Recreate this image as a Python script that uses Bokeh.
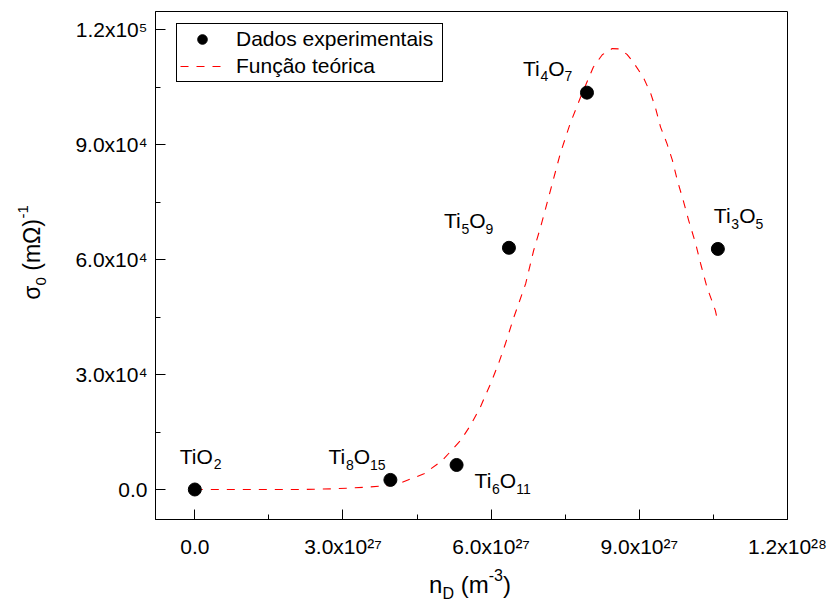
import math
from bokeh.plotting import figure
from bokeh.models import (Range1d, FixedTicker, CustomJSTickFormatter, Label,
                          Legend, LegendItem, ColumnDataSource, LinearAxis,
                          BoxAnnotation)
from bokeh.core.properties import value
from bokeh.embed import file_html
from bokeh.resources import INLINE

# ---------------- data ----------------
compounds = ["TiO2", "Ti8O15", "Ti6O11", "Ti5O9", "Ti4O7", "Ti3O5"]
n_d = [0.0, 3.96e27, 5.30e27, 6.36e27, 7.94e27, 10.59e27]
sigma0 = [0.0, 2.5e3, 6.4e3, 6.31e4, 1.036e5, 6.28e4]

curve_n = [0.0, 1.0e27, 2.14e27, 2.81e27, 3.49e27, 3.92e27, 4.20e27, 4.64e27,
           5.01e27, 5.38e27, 5.58e27, 5.78e27, 5.99e27, 6.15e27, 6.29e27,
           6.46e27, 6.70e27, 6.86e27, 7.00e27, 7.20e27, 7.40e27, 7.60e27,
           7.81e27, 8.07e27, 8.25e27, 8.45e27, 8.60e27, 8.75e27, 8.88e27,
           9.08e27, 9.23e27, 9.33e27, 9.43e27, 9.56e27, 9.67e27, 9.77e27,
           9.89e27, 10.00e27, 10.14e27, 10.24e27, 10.37e27, 10.54e27, 10.59e27]
curve_sigma = [0.0, 0.0, 0.0, 180.0, 600.0, 1040.0, 1910.0, 4100.0,
               7570.0, 12790.0, 16710.0, 21480.0, 27670.0, 32890.0, 38110.0,
               44980.0, 53780.0, 62390.0, 68470.0, 78050.0, 87720.0, 95540.0,
               102410.0, 110300.0, 113500.0, 115100.0, 115000.0, 113600.0, 111500.0,
               107600.0, 103400.0, 99500.0, 94600.0, 90300.0, 85900.0, 80700.0,
               75400.0, 70200.0, 64200.0, 59000.0, 52800.0, 46700.0, 43700.0]

x_ticks = [0.0, 3e27, 6e27, 9e27, 1.2e28]
x_tick_labels = ["0.0", "3.0x10²⁷", "6.0x10²⁷", "9.0x10²⁷", "1.2x10²⁸"]
x_minor = [1.5e27, 4.5e27, 7.5e27, 10.5e27]
y_ticks = [0.0, 3e4, 6e4, 9e4, 1.2e5]
y_tick_labels = ["0.0", "3.0x10⁴", "6.0x10⁴", "9.0x10⁴", "1.2x10⁵"]
y_minor = [1.5e4, 4.5e4, 7.5e4, 1.05e5]

x_axis_limits = [-7.96e26, 1.2e28]
y_axis_limits = [-7832.0, 124782.0]

legend_labels = ["Dados experimentais", "Função teórica"]

# ---------------- layout / style ----------------
FONT = "Liberation Sans"
W, H = 827, 604
BOX_L, BOX_R, BOX_T, BOX_B = 155, 787, 11, 519   # pixel edges of the axes box
BASE_FIX = 0.3   # baseline correction (fraction of font size)

ADV = {'T': .611, 'i': .222, 'O': .778, 'n': .556, 'D': .722, ' ': .278,
       '(': .333, ')': .333, 'm': .833, '-': .333, 'σ': .62, 'Ω': .768}
for d in "0123456789":
    ADV[d] = .556


def text_width(s, size):
    return sum(ADV.get(c, .556) for c in s) * size


def split_formula(name):
    parts, cur, cur_digit = [], "", None
    for c in name:
        is_d = c.isdigit()
        if cur and is_d != cur_digit:
            parts.append((cur, "s" if cur_digit else "n"))
            cur = ""
        cur += c
        cur_digit = is_d
    if cur:
        parts.append((cur, "s" if cur_digit else "n"))
    return parts


# the frame spans the whole canvas; the axes box is drawn inside it
xpp = (x_axis_limits[1] - x_axis_limits[0]) / (BOX_R - BOX_L)
ypp = (y_axis_limits[1] - y_axis_limits[0]) / (BOX_B - BOX_T)
x_range = Range1d(x_axis_limits[0] - BOX_L * xpp, x_axis_limits[1] + (W - BOX_R) * xpp)
y_range = Range1d(y_axis_limits[0] - (H - BOX_B) * ypp, y_axis_limits[1] + BOX_T * ypp)

p = figure(width=W, height=H, output_backend="svg", toolbar_location=None,
           x_range=x_range, y_range=y_range,
           x_axis_location=None, y_axis_location=None,
           min_border=0, min_border_left=0, min_border_right=0,
           min_border_top=0, min_border_bottom=0)
p.background_fill_color = "white"
p.border_fill_color = "white"
p.outline_line_color = None
p.grid.visible = False

fmt_code = """
let best = 0, bd = Infinity;
for (let i = 0; i < vals.length; i++) {
  const d = Math.abs(vals[i] - tick);
  if (d < bd) { bd = d; best = i; }
}
return labs[best];
"""
xaxis = LinearAxis(ticker=FixedTicker(ticks=x_ticks, minor_ticks=x_minor),
                   formatter=CustomJSTickFormatter(args=dict(vals=x_ticks, labs=x_tick_labels), code=fmt_code),
                   fixed_location=y_axis_limits[0], bounds=tuple(x_axis_limits))
yaxis = LinearAxis(ticker=FixedTicker(ticks=y_ticks, minor_ticks=y_minor),
                   formatter=CustomJSTickFormatter(args=dict(vals=y_ticks, labs=y_tick_labels), code=fmt_code),
                   fixed_location=x_axis_limits[0], bounds=tuple(y_axis_limits))
for ax in (xaxis, yaxis):
    ax.axis_line_color = "black"
    ax.axis_line_width = 1
    ax.major_tick_in = 10
    ax.major_tick_out = 0
    ax.minor_tick_in = 5
    ax.minor_tick_out = 0
    ax.major_tick_line_color = "black"
    ax.minor_tick_line_color = "black"
    ax.major_label_text_font = FONT
    ax.major_label_text_font_size = "21px"
    ax.major_label_text_color = "black"
xaxis.major_label_standoff = 15
yaxis.major_label_standoff = 8
p.add_layout(xaxis, "below")
p.add_layout(yaxis, "left")

# top and right edges of the box
p.add_layout(BoxAnnotation(left=x_axis_limits[0], right=x_axis_limits[1],
                           bottom=y_axis_limits[0], top=y_axis_limits[1],
                           fill_alpha=0, line_color="black", line_width=1,
                           line_alpha=1, level="underlay"))

# curve and points
ln = p.line(curve_n, curve_sigma, line_color="#FF0000", line_width=1.1, line_dash="8 8")
sc = p.scatter(n_d, sigma0, size=13, marker="circle", fill_color="black", line_color="black")

# formula labels next to the points
LBL_MAIN, LBL_SUB, LBL_DROP = 21, 14, 6
label_offsets = [(-15, -27), (-62, -17), (18, 22), (-65, -21), (-64, -18), (-4, -27)]
rows = dict(x=[], y=[], text=[], xo=[], yo=[], fs=[])
for name, xv, yv, (dx, dy) in zip(compounds, n_d, sigma0, label_offsets):
    cursor = dx
    for txt, kind in split_formula(name):
        size = LBL_MAIN if kind == "n" else LBL_SUB
        rows["x"].append(xv)
        rows["y"].append(yv)
        rows["text"].append(txt)
        rows["xo"].append(cursor)
        rows["yo"].append(dy + (LBL_DROP if kind == "s" else 0) - BASE_FIX * size)
        rows["fs"].append(f"{size}px")
        cursor += text_width(txt, size)
p.text(x="x", y="y", text="text", x_offset="xo", y_offset="yo",
       text_font_size="fs", source=ColumnDataSource(rows),
       text_font=value(FONT), text_color="black",
       text_align="left", text_baseline="alphabetic")


def title_pieces(pieces, main, small, drop, rise):
    out, cursor = [], 0.0
    for txt, kind in pieces:
        size = main if kind == "n" else small
        shift = -drop if kind == "s" else (rise if kind == "p" else 0)
        if txt.startswith(" "):
            cursor += text_width(" ", size)
            txt = txt.lstrip(" ")
        out.append((txt, size, cursor, shift))
        cursor += text_width(txt, size)
    return out, cursor


# x axis title  n_D (m^-3)
x_title = [("n", "n"), ("D", "s"), (" (m", "n"), ("-3", "p"), (")", "n")]
pcs, tw = title_pieces(x_title, 24, 16, 7, 12)
XT_CENTER, XT_BASE = 469.5, 591
for txt, size, cur, shift in pcs:
    p.add_layout(Label(x=XT_CENTER - tw / 2 + cur,
                       y=(H - XT_BASE) + shift + BASE_FIX * size,
                       x_units="screen", y_units="screen", text=txt,
                       text_font=FONT, text_font_size=f"{size}px",
                       text_color="black", text_align="left",
                       text_baseline="alphabetic"))

# y axis title  sigma_0 (mOhm)^-1
y_title = [("σ", "n"), ("0", "s"), (" (mΩ)", "n"), ("-1", "p")]
pcs, tw = title_pieces(y_title, 23, 15, 7, 11)
YT_CENTER, YT_BASE = 252, 38
for txt, size, cur, shift in pcs:
    p.add_layout(Label(x=YT_BASE - shift - BASE_FIX * size,
                       y=(H - YT_CENTER) - tw / 2 + cur,
                       x_units="screen", y_units="screen", text=txt,
                       angle=math.pi / 2, text_font=FONT,
                       text_font_size=f"{size}px", text_color="black",
                       text_align="left", text_baseline="alphabetic"))

legend = Legend(items=[LegendItem(label=legend_labels[0], renderers=[sc]),
                       LegendItem(label=legend_labels[1], renderers=[ln])],
                location=(176, H - 82))
legend.border_line_color = "black"
legend.border_line_width = 1
legend.border_line_alpha = 1
legend.background_fill_color = "white"
legend.background_fill_alpha = 1
legend.padding = 3
legend.spacing = 3
legend.margin = 0
legend.glyph_width = 44
legend.glyph_height = 24
legend.label_height = 24
legend.label_width = 203
legend.label_standoff = 12
legend.label_text_font = FONT
legend.label_text_font_size = "21px"
legend.label_text_color = "black"
p.add_layout(legend)

open("out.html", "w").write(file_html(p, INLINE))
